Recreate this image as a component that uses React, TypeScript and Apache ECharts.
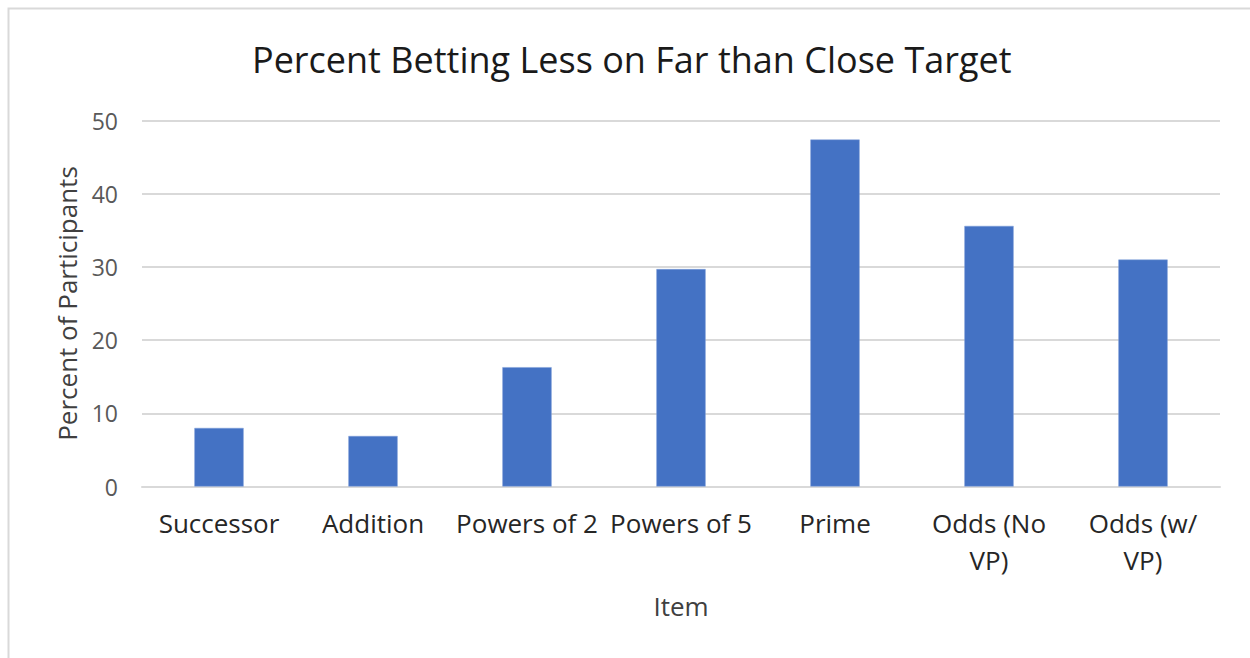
import React, { useEffect, useRef } from "react";
import * as echarts from "echarts";

const categories = ["Successor", "Addition", "Powers of 2", "Powers of 5", "Prime", "Odds (No VP)", "Odds (w/ VP)"];
const values = [8.0, 6.9, 16.3, 29.7, 47.4, 35.6, 31.0];
const titleText = "Percent Betting Less on Far than Close Target";
const xName = "Item";
const yName = "Percent of Participants";

export default function App() {
  const ref = useRef<HTMLDivElement>(null);
  useEffect(() => {
    if (!ref.current) return;
    const chart = echarts.init(ref.current, null, { renderer: "svg" });
    const font = "'Open Sans', 'Noto Sans', sans-serif";
    chart.setOption({
      animation: false,
      backgroundColor: "#ffffff",
      textStyle: { fontFamily: font },
      title: {
        text: titleText,
        left: 247,
        top: 36,
        textStyle: { fontFamily: font, fontSize: 36, fontWeight: "normal", color: "#1a1a1a" },
      },
      graphic: [
        {
          type: "rect",
          shape: { x: 8.5, y: 8.5, width: 1300, height: 700 },
          style: { fill: "none", stroke: "#d9d9d9", lineWidth: 2 },
          silent: true,
        },
      ],
      grid: { left: 142, right: 30, top: 120.5, bottom: 171.5, containLabel: false },
      xAxis: {
        type: "category",
        data: categories,
        name: xName,
        nameLocation: "middle",
        nameGap: 106,
        nameTextStyle: { fontFamily: font, fontSize: 26, color: "#404040" },
        axisLine: { show: true, lineStyle: { color: "#d9d9d9", width: 2 } },
        axisTick: { show: false },
        axisLabel: {
          fontFamily: font,
          fontSize: 26,
          color: "#262626",
          margin: 18,
          lineHeight: 37,
          interval: 0,
          formatter: (v: string) => v.replace(" VP)", "\nVP)"),
        },
      },
      yAxis: {
        type: "value",
        min: 0,
        max: 50,
        interval: 10,
        name: yName,
        nameLocation: "middle",
        nameGap: 62,
        nameTextStyle: { fontFamily: font, fontSize: 26, color: "#404040" },
        axisLine: { show: false },
        axisTick: { show: false },
        axisLabel: { fontFamily: font, fontSize: 23, color: "#595959", margin: 24 },
        splitLine: { lineStyle: { color: "#d9d9d9", width: 2 } },
      },
      series: [
        {
          type: "bar",
          data: values,
          barWidth: "32%",
          itemStyle: { color: "#4472c4", borderColor: "#7f9fd9", borderWidth: 0.5 },
        },
      ],
    });
    return () => chart.dispose();
  }, []);
  return (
    <div
      ref={ref}
      style={{ position: "fixed", left: 0, top: 0, width: 1250, height: 658 }}
    />
  );
}
